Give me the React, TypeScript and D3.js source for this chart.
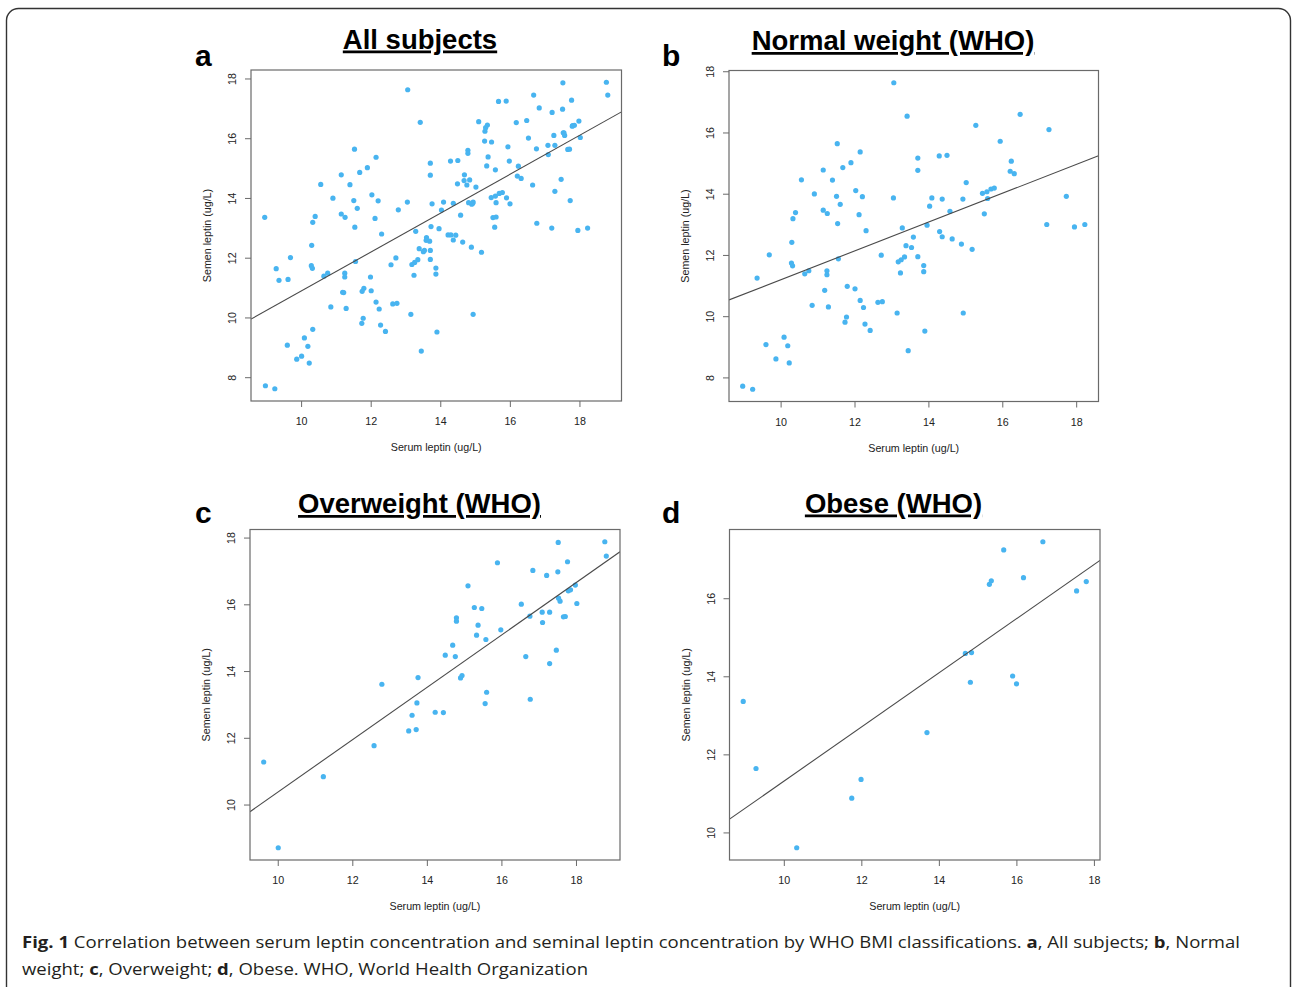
import React from 'react';
import * as d3 from 'd3';

// ---- Data (serum leptin = x, semen leptin = y), ug/L ----
const normalSerum = [
  13.05, 13.41, 16.47, 15.27, 17.25, 11.52, 12.14, 15.93, 14.28, 14.49,
  13.70, 13.70, 16.23, 16.20, 16.31, 11.14, 11.67, 11.89, 10.55, 11.39,
  10.90, 15.01, 12.02, 12.20, 11.50, 11.60, 13.04, 14.08, 14.36, 14.92,
  15.45, 15.57, 15.68, 15.77, 15.59, 15.50, 14.02, 14.57, 11.14, 11.25,
  10.39, 10.32, 12.11, 11.53, 12.30, 13.28, 13.95, 17.19, 17.72, 17.94,
  18.22, 14.29, 14.36, 13.58, 14.63, 10.29, 14.88, 13.38, 13.53, 15.17,
  9.68, 12.71, 13.70, 13.34, 11.55, 13.25, 13.17, 10.28, 10.31, 9.35,
  11.24, 11.24, 10.75, 10.64, 13.86, 13.86, 13.23, 11.79, 12.00, 11.18,
  12.14, 12.23, 12.62, 12.74, 10.84, 11.28, 13.14, 14.93, 11.77, 11.73,
  12.27, 12.41, 13.89, 10.08, 9.59, 10.18, 9.86, 10.22, 13.44, 8.96, 9.23,
];
const normalSemen = [
  17.64, 16.55, 16.61, 16.25, 16.11, 15.65, 15.38, 15.73, 15.25, 15.27,
  15.18, 14.78, 15.08, 14.75, 14.67, 14.79, 14.87, 15.03, 14.47, 14.46,
  14.01, 14.38, 14.12, 13.92, 13.93, 13.67, 13.88, 13.88, 13.84, 13.84,
  14.03, 14.08, 14.17, 14.20, 13.86, 13.36, 13.61, 13.44, 13.48, 13.37,
  13.40, 13.20, 13.33, 13.04, 12.81, 12.90, 12.99, 13.01, 13.93, 12.93,
  13.01, 12.78, 12.61, 12.60, 12.54, 12.43, 12.37, 12.32, 12.26, 12.20,
  12.02, 12.01, 11.96, 11.95, 11.89, 11.86, 11.79, 11.75, 11.66, 11.26,
  11.50, 11.37, 11.50, 11.40, 11.67, 11.47, 11.43, 10.99, 10.91, 10.86,
  10.53, 10.30, 10.47, 10.49, 10.37, 10.32, 10.12, 10.12, 9.99, 9.82,
  9.76, 9.55, 9.53, 9.33, 9.09, 9.05, 8.62, 8.49, 8.89, 7.73, 7.63,
];

const overweightSerum = [
  17.51, 18.76, 18.80, 15.88, 17.76, 16.83, 17.50, 17.20, 15.09, 17.97,
  17.78, 17.84, 17.52, 17.56, 18.01, 16.52, 15.26, 15.46, 14.78, 14.78,
  17.08, 17.28, 16.75, 17.65, 17.70, 15.36, 17.09, 15.32, 15.97, 15.57,
  14.68, 14.48, 14.75, 16.64, 17.46, 17.28, 13.75, 14.93, 14.89, 12.78,
  15.59, 16.76, 15.55, 13.72, 13.59, 14.21, 14.43, 13.50, 13.70, 12.57,
  9.61, 11.21, 10.00,
];
const overweightSemen = [
  17.87, 17.89, 17.46, 17.26, 17.29, 17.03, 16.99, 16.88, 16.57, 16.59,
  16.42, 16.45, 16.20, 16.11, 16.04, 16.02, 15.92, 15.89, 15.61, 15.51,
  15.78, 15.78, 15.66, 15.64, 15.65, 15.39, 15.47, 15.09, 15.25, 14.96,
  14.79, 14.49, 14.45, 14.45, 14.64, 14.24, 13.82, 13.88, 13.81, 13.62,
  13.38, 13.17, 13.04, 13.06, 12.69, 12.78, 12.77, 12.22, 12.26, 11.78,
  11.29, 10.85, 8.72,
];

const obeseSerum = [
  16.67, 15.66, 16.17, 15.34, 15.29, 17.79, 17.54, 14.67, 14.83, 15.89,
  14.80, 15.99, 8.94, 13.68, 9.27, 11.98, 11.74, 10.32,
];
const obeseSemen = [
  17.46, 17.25, 16.54, 16.46, 16.37, 16.44, 16.20, 14.60, 14.62, 14.02,
  13.86, 13.82, 13.37, 12.57, 11.65, 11.37, 10.89, 9.62,
];

const xTickValues = [10, 12, 14, 16, 18];
const yTickValues = [8, 10, 12, 14, 16, 18];

const panelTitles = ['All subjects', 'Normal weight (WHO)', 'Overweight (WHO)', 'Obese (WHO)'];
const panelLetters = ['a', 'b', 'c', 'd'];

const xLabel = 'Serum leptin (ug/L)';
const yLabel = 'Semen leptin (ug/L)';

// ---- Helpers ----
function rDomain(v: number[]): [number, number] {
  const [lo, hi] = d3.extent(v) as [number, number];
  const pad = (hi - lo) * 0.04;
  return [lo - pad, hi + pad];
}

function linFit(xs: number[], ys: number[]) {
  const mx = d3.mean(xs) as number;
  const my = d3.mean(ys) as number;
  let sxy = 0;
  let sxx = 0;
  xs.forEach((x, i) => {
    sxy += (x - mx) * (ys[i] - my);
    sxx += (x - mx) * (x - mx);
  });
  const b = sxy / sxx;
  return { a: my - b * mx, b };
}

type Box = { left: number; right: number; top: number; bottom: number };

const AXIS_FONT = 'Liberation Sans, Arial, Helvetica, sans-serif';
const DOT = '#48b4f0';

function Panel(props: {
  id: string;
  box: Box;
  xs: number[];
  ys: number[];
  title: string;
  letter: string;
  titleX: number;
  titleY: number;
  letterX: number;
  letterY: number;
}) {
  const { id, box, xs, ys, title, letter, titleX, titleY, letterX, letterY } = props;
  const xDom = rDomain(xs);
  const yDom = rDomain(ys);
  const x = d3.scaleLinear().domain(xDom).range([box.left, box.right]);
  const y = d3.scaleLinear().domain(yDom).range([box.bottom, box.top]);
  const fit = linFit(xs, ys);
  const xt = xTickValues.filter((t) => t >= xDom[0] && t <= xDom[1]);
  const yt = yTickValues.filter((t) => t >= yDom[0] && t <= yDom[1]);
  const lineGen = d3
    .line<number>()
    .x((d) => x(d))
    .y((d) => y(fit.a + fit.b * d));
  const cx = (box.left + box.right) / 2;
  const cy = (box.top + box.bottom) / 2;
  const tick = 6;
  return (
    <g>
      <defs>
        <clipPath id={`clip-${id}`}>
          <rect x={box.left} y={box.top} width={box.right - box.left} height={box.bottom - box.top} />
        </clipPath>
      </defs>
      <text
        x={titleX}
        y={titleY}
        textAnchor="middle"
        fontFamily={AXIS_FONT}
        fontWeight="bold"
        fontSize={27.5}
        textDecoration="underline"
        fill="#000"
      >
        {title}
      </text>
      <text x={letterX} y={letterY} fontFamily={AXIS_FONT} fontWeight="bold" fontSize={30} fill="#000">
        {letter}
      </text>
      {/* points */}
      <g clipPath={`url(#clip-${id})`}>
        {xs.map((v, i) => (
          <circle key={i} cx={x(v)} cy={y(ys[i])} r={2.6} fill={DOT} />
        ))}
        <path d={lineGen(xDom) || ''} fill="none" stroke="#4a4a4a" strokeWidth={1.1} />
      </g>
      {/* box */}
      <rect
        x={box.left}
        y={box.top}
        width={box.right - box.left}
        height={box.bottom - box.top}
        fill="none"
        stroke="#6a6a6a"
        strokeWidth={1.2}
      />
      {/* x axis */}
      {xt.map((t) => (
        <g key={`x${t}`}>
          <line x1={x(t)} x2={x(t)} y1={box.bottom} y2={box.bottom + tick} stroke="#6a6a6a" strokeWidth={1} />
          <text
            x={x(t)}
            y={box.bottom + 20}
            textAnchor="middle"
            dominantBaseline="central"
            fontFamily={AXIS_FONT}
            fontSize={10.7}
            fill="#222"
          >
            {t}
          </text>
        </g>
      ))}
      {yt.map((t) => (
        <g key={`y${t}`}>
          <line x1={box.left - tick} x2={box.left} y1={y(t)} y2={y(t)} stroke="#6a6a6a" strokeWidth={1} />
          <text
            transform={`translate(${box.left - 19},${y(t)}) rotate(-90)`}
            textAnchor="middle"
            dominantBaseline="central"
            fontFamily={AXIS_FONT}
            fontSize={10.7}
            fill="#222"
          >
            {t}
          </text>
        </g>
      ))}
      <text
        x={cx}
        y={box.bottom + 46}
        textAnchor="middle"
        dominantBaseline="central"
        fontFamily={AXIS_FONT}
        fontSize={10.7}
        fill="#222"
      >
        {xLabel}
      </text>
      <text
        transform={`translate(${box.left - 44},${cy}) rotate(-90)`}
        textAnchor="middle"
        dominantBaseline="central"
        fontFamily={AXIS_FONT}
        fontSize={10.7}
        fill="#222"
      >
        {yLabel}
      </text>
    </g>
  );
}

export default function App() {
  const allSerum = [...normalSerum, ...overweightSerum, ...obeseSerum];
  const allSemen = [...normalSemen, ...overweightSemen, ...obeseSemen];
  const groups = [
    { xs: allSerum, ys: allSemen },
    { xs: normalSerum, ys: normalSemen },
    { xs: overweightSerum, ys: overweightSemen },
    { xs: obeseSerum, ys: obeseSemen },
  ];
  const boxes: Box[] = [
    { left: 251, right: 621.5, top: 70, bottom: 401 },
    { left: 729, right: 1098.5, top: 70.5, bottom: 401.5 },
    { left: 250, right: 620, top: 529.5, bottom: 860 },
    { left: 729.5, right: 1100, top: 529.5, bottom: 860 },
  ];
  const titlePos = [
    [420, 48.5],
    [893, 50],
    [419.5, 513],
    [893.5, 512.5],
  ];
  const letterPos = [
    [195, 66],
    [662, 66],
    [195, 523],
    [662, 523],
  ];
  const capFont = '"Open Sans", "Noto Sans", sans-serif';
  return (
    <svg
      width={1292}
      height={987}
      style={{ position: 'absolute', left: 0, top: 0, background: '#fff' }}
    >
      <rect x={0} y={0} width={1292} height={987} fill="#fff" />
      <rect x={6.5} y={8.5} width={1284} height={992} rx={12} ry={12} fill="none" stroke="#333" strokeWidth={1.4} />
      {groups.map((g, i) => (
        <Panel
          key={i}
          id={`p${i}`}
          box={boxes[i]}
          xs={g.xs}
          ys={g.ys}
          title={panelTitles[i]}
          letter={panelLetters[i]}
          titleX={titlePos[i][0]}
          titleY={titlePos[i][1]}
          letterX={letterPos[i][0]}
          letterY={letterPos[i][1]}
        />
      ))}
      <text x={22} y={948} fontFamily={capFont} fontSize={16.5} fill="#231f20" textLength={1218} lengthAdjust="spacingAndGlyphs">
        <tspan fontWeight="bold">Fig. 1</tspan>
        {' Correlation between serum leptin concentration and seminal leptin concentration by WHO BMI classifications. '}
        <tspan fontWeight="bold">a</tspan>
        {', All subjects; '}
        <tspan fontWeight="bold">b</tspan>
        {', Normal'}
      </text>
      <text x={22} y={975} fontFamily={capFont} fontSize={16.5} fill="#231f20" textLength={566} lengthAdjust="spacingAndGlyphs">
        {'weight; '}
        <tspan fontWeight="bold">c</tspan>
        {', Overweight; '}
        <tspan fontWeight="bold">d</tspan>
        {', Obese. WHO, World Health Organization'}
      </text>
    </svg>
  );
}
